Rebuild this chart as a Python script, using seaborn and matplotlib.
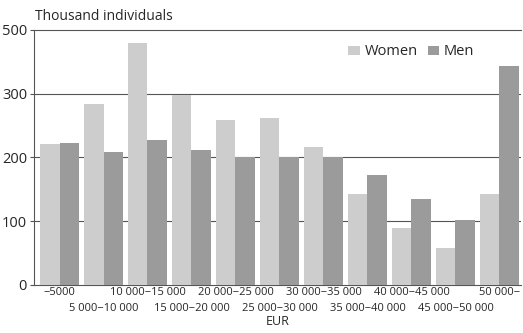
import numpy as np
import pandas as pd
import seaborn as sns
import matplotlib.pyplot as plt

categories = ["\u22125000", "5 000\u221210 000", "10 000\u221215 000", "15 000\u221220 000",
              "20 000\u221225 000", "25 000\u221230 000", "30 000\u221235 000", "35 000\u221240 000",
              "40 000\u221245 000", "45 000\u221250 000", "50 000\u2212"]
women = [221, 283, 380, 298, 259, 262, 217, 142, 89, 57, 142]
men = [223, 208, 228, 212, 200, 200, 200, 173, 134, 101, 344]
y_ticks = [0, 100, 200, 300, 400]
y_tick_labels = ["0", "100", "200", "300", "500"]

df = pd.DataFrame({
    "bracket": categories * 2,
    "value": women + men,
    "sex": ["Women"] * len(categories) + ["Men"] * len(categories),
})

sns.set_theme(style="white")
plt.rcParams["font.family"] = ["Open Sans", "DejaVu Sans"]

fig, ax = plt.subplots(figsize=(5.23, 3.33), dpi=100)
fig.subplots_adjust(left=0.065, right=0.997, top=0.91, bottom=0.145)

sns.barplot(data=df, x="bracket", y="value", hue="sex", order=categories,
            palette={"Women": "#cdcdcd", "Men": "#9b9b9b"}, width=0.87,
            saturation=1, linewidth=0, ax=ax, zorder=3)

ax.set_ylim(0, 400)
ax.set_yticks(y_ticks)
ax.set_yticklabels(y_tick_labels, fontsize=10.5)
for y in [100, 200, 300]:
    ax.axhline(y, color="#555555", lw=0.8, zorder=1)

# two rows of bracket labels: even ones on top row, odd ones below
ax.set_xlim(-0.58, len(categories) - 0.5)
idx = np.arange(len(categories))
ax.set_xticks(idx[::2])
ax.set_xticklabels(categories[::2], fontsize=8)
ax.set_xticks(idx[1::2], minor=True)
ax.set_xticklabels(categories[1::2], minor=True, fontsize=8)
ax.tick_params(axis="x", which="major", length=0, pad=2)
ax.tick_params(axis="x", which="minor", length=0, pad=13)
ax.tick_params(axis="y", length=3, width=0.8, color="#555555", left=True, pad=2)

ax.set_xlabel("EUR", fontsize=9, labelpad=1)
ax.set_ylabel("")
ax.text(0.003, 1.025, "Thousand individuals", transform=ax.transAxes, fontsize=10,
        ha="left", va="bottom")

for side in ["left", "bottom", "top"]:
    ax.spines[side].set_color("#555555")
    ax.spines[side].set_linewidth(0.8)
ax.spines["right"].set_visible(False)

ax.legend(loc="upper right", bbox_to_anchor=(0.93, 0.995), ncol=2, frameon=False,
          fontsize=10.5, handlelength=0.8, handleheight=0.6, handletextpad=0.3,
          columnspacing=0.7)

fig.savefig("out.png", dpi=100)
